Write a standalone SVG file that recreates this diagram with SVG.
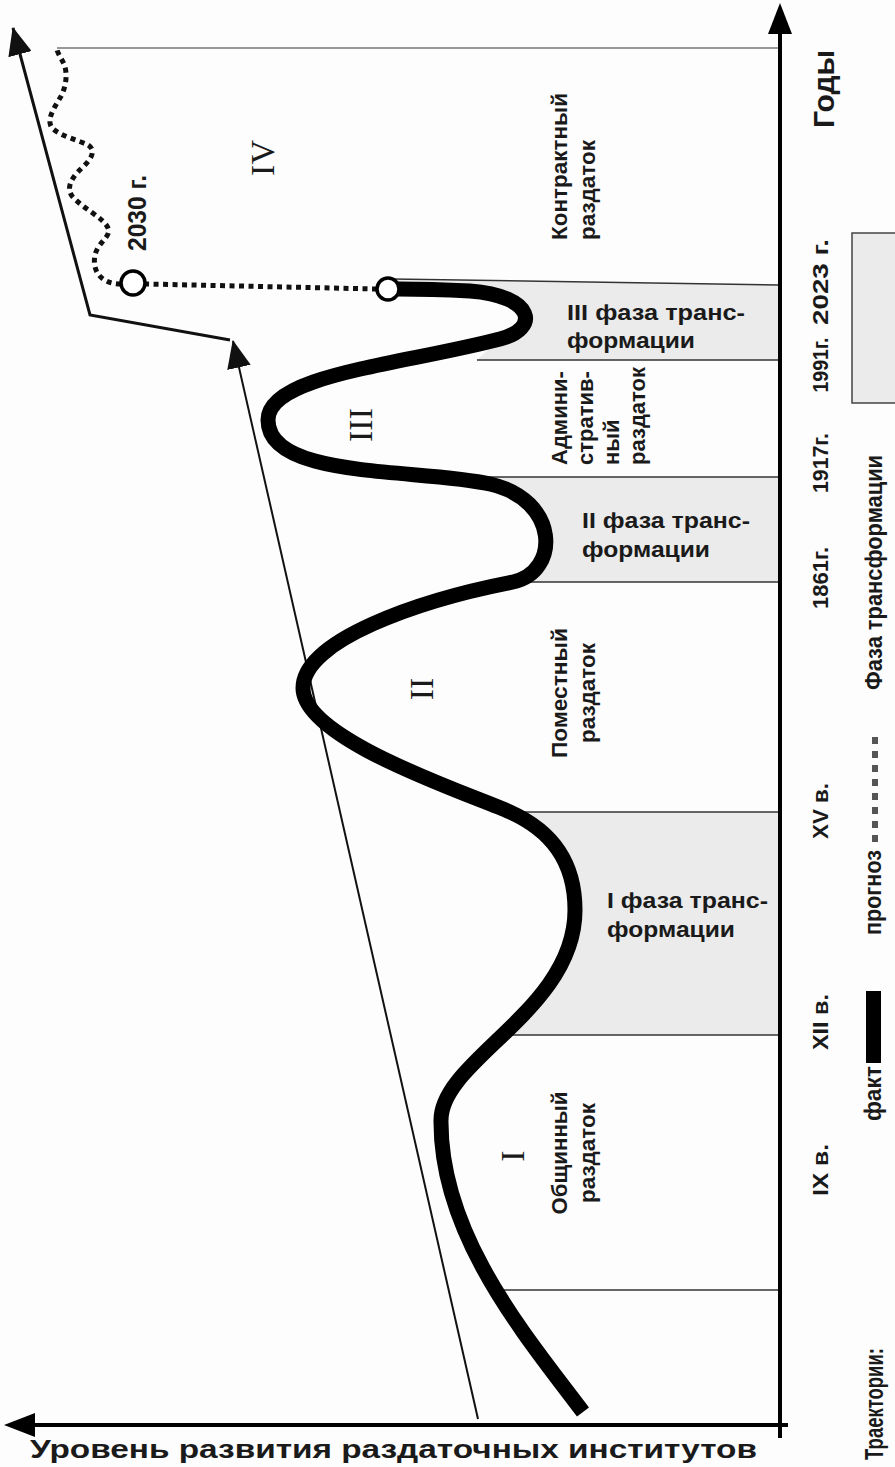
<svg xmlns="http://www.w3.org/2000/svg" width="895" height="1467" viewBox="0 0 895 1467">
<style>
.bg{fill:#fdfdfd}
.phase{fill:#ebebeb;stroke:none}
.bnd{stroke:#333;stroke-width:1.6;fill:none}
.ax{stroke:#000;stroke-width:4;fill:none}
.lbl{font-family:"Liberation Sans",Arial,sans-serif;font-weight:bold;font-size:22px;fill:#1a1a1a}
.nar{font-family:"Liberation Sans Narrow","Liberation Sans",Arial,sans-serif;font-weight:bold;fill:#1a1a1a}
.rom{font-family:"Liberation Serif","Times New Roman",serif;font-size:34px;fill:#1a1a1a}
.curve{stroke:#000;stroke-width:15;fill:none;stroke-linecap:butt;stroke-linejoin:round}
.dot{stroke:#111;stroke-width:5;fill:none;stroke-dasharray:5 4.5}
.circ{fill:#fff;stroke:#000;stroke-width:3.5}
</style>
<defs>
<marker id="arr" markerUnits="userSpaceOnUse" markerWidth="28" markerHeight="24" viewBox="0 0 28 24" refX="27" refY="12" orient="auto">
<path d="M0,0 L28,12 L0,24 Z" fill="#111"/>
</marker>
</defs>
<rect class="bg" x="0" y="0" width="895" height="1467"/>

<g id="phases">
<path class="phase" d="M 395 280 L 780 285 L 780 360 L 477 360 L 500 339 C 540 327, 535 296, 470 291 C 430 289, 410 289, 398 289 Z"/>
<path class="phase" d="M 480 477 L 780 477 L 780 582 L 513 582 C 560 572, 560 500, 490 484 Z"/>
<path class="phase" d="M 510 812 L 780 812 L 780 1035 L 503 1035 C 540 1010, 575 975, 575 910 C 575 860, 550 830, 510 812 Z"/>
</g>

<g id="boundaries">
<line class="bnd" x1="57" y1="48" x2="778" y2="48" style="stroke:#777;stroke-width:1.4"/>
<line class="bnd" x1="392" y1="279" x2="780" y2="285"/>
<line class="bnd" x1="477" y1="360" x2="780" y2="360"/>
<line class="bnd" x1="480" y1="477" x2="780" y2="477"/>
<line class="bnd" x1="513" y1="582" x2="780" y2="582"/>
<line class="bnd" x1="513" y1="812" x2="780" y2="812"/>
<line class="bnd" x1="506" y1="1035" x2="780" y2="1035"/>
<line class="bnd" x1="490" y1="1290" x2="780" y2="1290"/>
</g>

<g id="axes">
<line class="ax" x1="780" y1="1438" x2="780" y2="30"/>
<path d="M780,3 L768,34 L792,34 Z" fill="#000"/>
<line class="ax" x1="788" y1="1425" x2="30" y2="1425"/>
<path d="M4,1425 L35,1413 L35,1437 Z" fill="#000"/>
</g>

<g id="connectors">
<polyline points="230,340 90,315 13,28" fill="none" stroke="#111" stroke-width="3" marker-end="url(#arr)"/>
<line x1="478" y1="1419" x2="233" y2="341" stroke="#111" stroke-width="2" marker-end="url(#arr)"/>
</g>

<g id="trajectory-fact">
<path class="curve" d="M 583 1412 C 525 1335, 440 1235, 441 1120 C 441 1060, 575 1010, 575 910 C 575 860, 550 830, 510 812 C 470 794, 303 740, 303 688 C 303 640, 420 600, 513 582 C 560 572, 560 500, 490 484 C 420 468, 268 480, 268 420 C 268 375, 400 365, 500 339 C 540 329, 535 296, 470 291 C 430 289, 410 289, 398 289"/>
</g>

<g id="trajectory-forecast">
<path class="dot" d="M 377 289 L 146 284"/>
<path class="dot" d="M 121 284 C 100 284, 92 270, 95 255 C 98 242, 112 236, 108 228 C 104 218, 82 208, 72 196 C 65 186, 74 175, 84 166 C 92 158, 96 150, 88 145 C 78 140, 60 136, 52 128 C 46 120, 54 108, 60 98 C 66 88, 68 74, 64 64 C 60 56, 57 52, 57 49"/>
<circle class="circ" cx="388" cy="289" r="11"/>
<circle class="circ" cx="133" cy="283" r="12"/>
<text class="nar" font-size="26" transform="translate(146,251) rotate(-90)" textLength="76" lengthAdjust="spacingAndGlyphs">2030 г.</text>
</g>

<g id="romans">
<text class="rom" text-anchor="middle" transform="translate(274,158) rotate(-90)">IV</text>
<text class="rom" text-anchor="middle" transform="translate(372,425) rotate(-90)">III</text>
<text class="rom" text-anchor="middle" transform="translate(433,689) rotate(-90)">II</text>
<text class="rom" text-anchor="middle" transform="translate(524,1156) rotate(-90)">I</text>
</g>

<g id="region-contract">
<text class="lbl" transform="translate(567,240) rotate(-90)" textLength="147" lengthAdjust="spacingAndGlyphs">Контрактный</text>
<text class="lbl" transform="translate(595,240) rotate(-90)" textLength="100" lengthAdjust="spacingAndGlyphs">раздаток</text>
</g>
<g id="region-admin">
<text class="lbl" transform="translate(567,465) rotate(-90)">Админи-</text>
<text class="lbl" transform="translate(593,465) rotate(-90)">стратив-</text>
<text class="lbl" transform="translate(619,465) rotate(-90)">ный</text>
<text class="lbl" transform="translate(645,465) rotate(-90)">раздаток</text>
</g>
<g id="region-pomest">
<text class="lbl" text-anchor="middle" transform="translate(567,693) rotate(-90)" textLength="130" lengthAdjust="spacingAndGlyphs">Поместный</text>
<text class="lbl" text-anchor="middle" transform="translate(595,693) rotate(-90)" textLength="100" lengthAdjust="spacingAndGlyphs">раздаток</text>
</g>
<g id="region-obsh">
<text class="lbl" text-anchor="middle" transform="translate(567,1153) rotate(-90)" textLength="123" lengthAdjust="spacingAndGlyphs">Общинный</text>
<text class="lbl" text-anchor="middle" transform="translate(595,1153) rotate(-90)" textLength="100" lengthAdjust="spacingAndGlyphs">раздаток</text>
</g>

<g id="phase3-label">
<text class="lbl" font-size="23" x="567" y="320" textLength="178" lengthAdjust="spacingAndGlyphs">III фаза транс-</text>
<text class="lbl" font-size="23" x="567" y="348" textLength="128" lengthAdjust="spacingAndGlyphs">формации</text>
</g>
<g id="phase2-label">
<text class="lbl" font-size="23" x="582" y="528" textLength="168" lengthAdjust="spacingAndGlyphs">II фаза транс-</text>
<text class="lbl" font-size="23" x="582" y="557" textLength="128" lengthAdjust="spacingAndGlyphs">формации</text>
</g>
<g id="phase1-label">
<text class="lbl" font-size="23" x="607" y="908" textLength="161" lengthAdjust="spacingAndGlyphs">I фаза транс-</text>
<text class="lbl" font-size="23" x="607" y="937" textLength="128" lengthAdjust="spacingAndGlyphs">формации</text>
</g>

<g id="year-labels">
<text class="nar" font-size="30" transform="translate(834,128) rotate(-90)" textLength="78" lengthAdjust="spacingAndGlyphs">Годы</text>
<text class="nar" font-size="22" text-anchor="middle" transform="translate(828,282) rotate(-90)" textLength="86" lengthAdjust="spacingAndGlyphs">2023 г.</text>
<text class="nar" font-size="22" text-anchor="middle" transform="translate(828,365) rotate(-90)" textLength="55" lengthAdjust="spacingAndGlyphs">1991г.</text>
<text class="nar" font-size="22" text-anchor="middle" transform="translate(828,463) rotate(-90)" textLength="60" lengthAdjust="spacingAndGlyphs">1917г.</text>
<text class="nar" font-size="22" text-anchor="middle" transform="translate(828,578) rotate(-90)" textLength="62" lengthAdjust="spacingAndGlyphs">1861г.</text>
<text class="nar" font-size="22" text-anchor="middle" transform="translate(828,811) rotate(-90)" textLength="56" lengthAdjust="spacingAndGlyphs">XV в.</text>
<text class="nar" font-size="22" text-anchor="middle" transform="translate(828,1022) rotate(-90)" textLength="56" lengthAdjust="spacingAndGlyphs">XII в.</text>
<text class="nar" font-size="22" text-anchor="middle" transform="translate(828,1170) rotate(-90)" textLength="52" lengthAdjust="spacingAndGlyphs">IX в.</text>
</g>

<g id="legend">
<rect x="852" y="233" width="60" height="170" fill="#ebebeb" stroke="#444" stroke-width="1.5"/>
<text class="nar" font-size="24" transform="translate(882,690) rotate(-90)" textLength="235" lengthAdjust="spacingAndGlyphs">Фаза трансформации</text>
<text class="nar" font-size="24" transform="translate(881,935) rotate(-90)" textLength="85" lengthAdjust="spacingAndGlyphs">прогноз</text>
<g fill="#555">
<rect x="872" y="737" width="6" height="7"/>
<rect x="872" y="751" width="6" height="7"/>
<rect x="872" y="765" width="6" height="7"/>
<rect x="872" y="779" width="6" height="7"/>
<rect x="872" y="793" width="6" height="7"/>
<rect x="872" y="807" width="6" height="7"/>
<rect x="872" y="821" width="6" height="7"/>
<rect x="872" y="835" width="6" height="7"/>
</g>
<rect x="866" y="991" width="15" height="72" fill="#000"/>
<text class="nar" font-size="24" transform="translate(881,1121) rotate(-90)" textLength="55" lengthAdjust="spacingAndGlyphs">факт</text>
<text class="nar" font-size="25" transform="translate(883,1460) rotate(-90)" textLength="112" lengthAdjust="spacingAndGlyphs">Траектории:</text>
</g>

<g id="axis-title">
<text class="nar" font-size="26" x="30" y="1458" textLength="727" lengthAdjust="spacingAndGlyphs">Уровень развития раздаточных институтов</text>
</g>
</svg>
